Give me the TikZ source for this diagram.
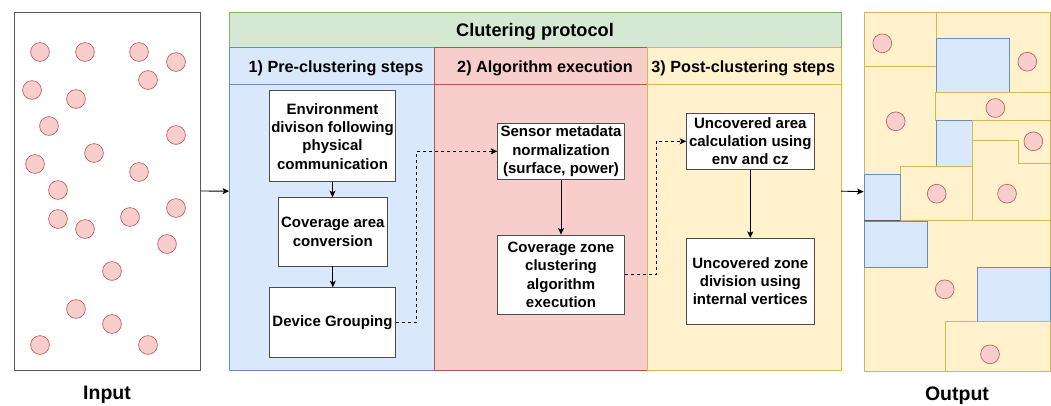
\documentclass[tikz,border=0pt]{standalone}
\usepackage{fontspec}
\setmainfont{Liberation Sans}
\usetikzlibrary{arrows.meta}
\definecolor{gfill}{HTML}{D5E8D4}\definecolor{gline}{HTML}{82B366}
\definecolor{bfill}{HTML}{DAE8FC}\definecolor{bline}{HTML}{6C8EBF}
\definecolor{rfill}{HTML}{F8CECC}\definecolor{rline}{HTML}{B85450}
\definecolor{yfill}{HTML}{FFF2CC}\definecolor{yline}{HTML}{D6B656}
\definecolor{boxline}{HTML}{4D4D4D}
\definecolor{panelline}{HTML}{5A5A5A}
\begin{document}
\begin{tikzpicture}[x=1pt,y=-1pt,
  stepbox/.style={draw=boxline, fill=white, line width=0.9pt, align=center, inner sep=1pt,
    font=\fontsize{15}{18.3}\selectfont\bfseries},
  flow/.style={draw=black, line width=0.9pt, -{Stealth[length=6.5pt,width=6pt,inset=1.5pt]}},
  dflow/.style={flow, dash pattern=on 3pt off 3pt},
  dot/.style={circle, draw=rline, fill=rfill, line width=0.6pt, minimum size=18.8pt, inner sep=0pt},
  colrect/.style={line width=0.7pt},
  title/.style={anchor=base, font=\fontsize{18.2}{21}\selectfont\bfseries},
  subtitle/.style={anchor=base, font=\fontsize{16.2}{19}\selectfont\bfseries},
  biglabel/.style={anchor=base, font=\fontsize{19.5}{22}\selectfont\bfseries},
  ypiece/.style={fill=yfill, draw=yline, line width=0.6pt},
  bpiece/.style={fill=bfill, draw=bline, line width=0.6pt}
]
\useasboundingbox (0,0) rectangle (1051,405);

% ---------- Input panel ----------
\node[draw=panelline, line width=0.9pt, minimum width=186pt, minimum height=358pt, inner sep=0pt] (inp) at (107,191) {};
\foreach \n/\px/\py in {1/40/52, 2/85/52, 3/139/52, 4/176/62, 5/148/80, 6/32/90, 7/76/99,
  8/49/126, 9/176/135, 10/94/153, 11/35/164, 12/139/172, 13/58/190, 14/176/208,
  15/58/219, 16/130/217, 17/85/229, 18/167/244, 19/112/271, 20/76/309, 21/112/324,
  22/40/345, 23/148/345}
  \node[dot] (i\n) at (\px,\py) {};
\node[biglabel] (inlabel) at (107,399.7) {Input};

% ---------- Clustering protocol ----------
\node[minimum width=611.7pt, minimum height=357.7pt, inner sep=0pt] (proto) at (535.15,191.15) {};
\path[colrect, fill=gfill, draw=gline] (229.3,12.3) rectangle (841,47.7);
\path[colrect, fill=bfill, draw=bline] (229.3,84.3) rectangle (434.3,370);
\path[colrect, fill=bfill, draw=bline] (229.3,47.7) rectangle (434.3,84.3);
\path[colrect, fill=rfill, draw=rline] (434.3,84.3) rectangle (647.3,370);
\path[colrect, fill=rfill, draw=rline] (434.3,47.7) rectangle (647.3,84.3);
\path[colrect, fill=yfill, draw=yline] (647.3,84.3) rectangle (841,370);
\path[colrect, fill=yfill, draw=yline] (647.3,47.7) rectangle (841,84.3);

\node[title] (ttl) at (535,36.7) {Clutering protocol};
\node[subtitle] (s1) at (336,72.5) {1) Pre-clustering steps};
\node[subtitle] (s2) at (545,72.5) {2) Algorithm execution};
\node[subtitle] (s3) at (743.3,72.5) {3) Post-clustering steps};

\node[stepbox, minimum width=126.4pt, minimum height=91pt] (b1) at (332.5,136.2)
  {Environment\\divison following\\physical\\communication};
\node[stepbox, minimum width=109pt, minimum height=68.3pt] (b2) at (332.8,231.8)
  {Coverage area\\conversion};
\node[stepbox, minimum width=126.4pt, minimum height=69.6pt] (b3) at (332.5,322.5)
  {Device Grouping};
\node[stepbox, minimum width=126.6pt, minimum height=56pt] (b4) at (561,151.3)
  {Sensor metadata\\normalization\\(surface, power)};
\node[stepbox, minimum width=126.6pt, minimum height=79.3pt] (b5) at (561,274.7)
  {Coverage zone\\clustering\\algorithm\\execution};
\node[stepbox, minimum width=127.3pt, minimum height=56pt] (b6) at (750.3,141.3)
  {Uncovered area\\calculation using\\env and cz};
\node[stepbox, minimum width=127.3pt, minimum height=85.7pt] (b7) at (750.3,281.2)
  {Uncovered zone\\division using\\internal vertices};

\draw[flow] (b1.south) -- (b1.south |- b2.north);
\draw[flow] (b2.south) -- (b2.south |- b3.north);
\draw[flow] (b4.south) -- (b5.north);
\draw[flow] (b6.south) -- (b7.north);
\draw[dflow] (b3.east) -- ++(20.3,0) |- (b4.west);
\draw[dflow] (b5.east) -- ++(31.4,0) |- (b6.west);

% ---------- Output panel ----------
\node[fill=yfill, draw=yline, line width=0.7pt, minimum width=186pt, minimum height=358.7pt, inner sep=0pt] (out) at (957,191.65) {};
\path[ypiece] (864,12.3) rectangle (936.7,66.3);
\path[ypiece] (936.7,12.3) rectangle (1050,92.7);
\path[bpiece] (936.7,38.3) rectangle (1009.3,92.7);
\path[ypiece] (935.7,92.7) rectangle (1050,120);
\path[bpiece] (936.7,120) rectangle (972.7,166.7);
\path[ypiece] (972.7,120) rectangle (1050,163);
\path[ypiece] (972.7,140.3) -- (1018.7,140.3) -- (1018.7,163) -- (1050,163) -- (1050,220.7) -- (972.7,220.7) -- cycle;
\path[ypiece] (900,166.7) rectangle (972.7,220.7);
\path[bpiece] (864,174.3) rectangle (900,220.7);
\path[bpiece] (864,221) rectangle (927.7,267.3);
\path[bpiece] (977,267.3) rectangle (1050,321);
\path[ypiece] (945.7,321) rectangle (1050,371);
\draw[draw=panelline, line width=0.6pt] (864,220.7) -- (900,220.7);
\foreach \n/\px/\py in {1/882.3/43.3, 2/1027.3/61.7, 3/995.3/108, 4/895.7/121.3,
  5/1033.3/141.3, 6/936.7/193.7, 7/1007/193.7, 8/944.7/289.3, 9/990/354.3}
  \node[dot] (o\n) at (\px,\py) {};
\node[biglabel] (outlabel) at (957,400) {Output};

% ---------- panel connectors ----------
\draw[flow] (inp.east) -- (proto.west);
\draw[flow] (proto.east) -- (out.west);
\end{tikzpicture}
\end{document}
